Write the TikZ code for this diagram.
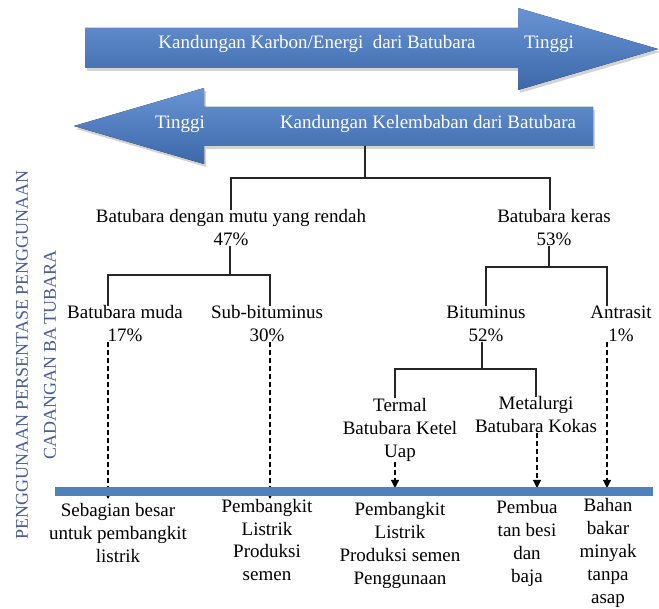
\documentclass[tikz,border=0pt]{standalone}
\usepackage{fontspec}
\setmainfont{Liberation Serif}
\usetikzlibrary{arrows.meta,shadows}
\definecolor{bandtop}{RGB}{104,148,212}
\definecolor{bandmid}{RGB}{80,127,194}
\definecolor{bandbot}{RGB}{60,104,170}
\definecolor{barblue}{RGB}{79,129,189}
\definecolor{sidetext}{RGB}{72,92,150}

\begin{document}
\begin{tikzpicture}[
    x=1pt, y=-1pt,
    every node/.style={color=black, inner sep=0pt, align=center,
        font=\fontsize{19}{23}\selectfont},
    band/.style={top color=bandtop, middle color=bandmid, bottom color=bandbot,
        drop shadow={shadow xshift=2pt, shadow yshift=-3pt, opacity=.35}},
    band text/.style={color=white},
    tree line/.style={line width=1.2pt, color=black!85},
    flow/.style={line width=1.1pt, dash pattern=on 5pt off 3pt,
        -{Triangle[length=8pt, width=8pt]}},
    side label/.style={rotate=90, color=sidetext, font=\fontsize{18}{20}\selectfont}
    ]
    \useasboundingbox (0,0) rectangle (659,609);
    % Arrows
    \fill[band] (85,28) -- (518,28) -- (518,8) -- (658,49) -- (518,90)
        -- (518,68) -- (85,68) -- cycle;
    \fill[band] (593,107) -- (204,107) -- (204,88) -- (74,126) -- (204,164)
        -- (204,146) -- (593,146) -- cycle;
    \node[band text] (carbon) at (317,44) {Kandungan Karbon/Energi\ \ dari Batubara};
    \node[band text] (carbonhi) at (549,44) {Tinggi};
    \node[band text] (moisthi) at (180,124) {Tinggi};
    \node[band text] (moist) at (428,124) {Kandungan Kelembaban dari Batubara};
    % Side labels
    \node[side label] (sideA) at (22,355) {PENGGUNAAN PERSENTASE PENGGUNAAN};
    \node[side label] (sideB) at (50,355) {CADANGAN BA\,TUBARA};
    % Coal types
    \node (low) at (231,228) {Batubara dengan mutu yang rendah\\47\%};
    \node (hard) at (554,228) {Batubara keras\\53\%};
    \node (muda) at (125,324) {Batubara muda\\17\%};
    \node (sub) at (267,324) {Sub-bituminus\\30\%};
    \node (bit) at (486,324) {Bituminus\\52\%};
    \node (antra) at (621,324) {Antrasit\\1\%};
    \node (termal) at (400,430) {Termal\\Batubara Ketel\\Uap};
    \node (metal) at (536,415) {Metalurgi\\Batubara Kokas};
    % Uses
    \node (use1) at (118,533) {Sebagian besar\\untuk pembangkit\\listrik};
    \node (use2) at (267,540) {Pembangkit\\Listrik\\Produksi\\semen};
    \node (use3) at (400,545) {Pembangkit\\Listrik\\Produksi semen\\Penggunaan};
    \node (use4) at (527,543) {Pembua\\tan besi\\dan\\baja};
    \node (use5) at (608,553) {Bahan\\bakar\\minyak\\tanpa\\asap};
    % Tree lines
    \coordinate (split) at (365,146);
    \coordinate (fork1) at (365,178);
    \coordinate (fork2) at (230,275);
    \coordinate (fork3) at (549,267);
    \coordinate (fork4) at (482,369);
    \draw[tree line] (split) -- (fork1);
    \draw[tree line] (low.north) |- (fork1) -| ([xshift=-4pt]hard.north);
    \draw[tree line] ([xshift=-1pt]low.south) -- (fork2);
    \draw[tree line] ([xshift=-17pt]muda.north) |- (fork2) -| ([xshift=3pt]sub.north);
    \draw[tree line] ([xshift=-5pt]hard.south) -- (fork3);
    \draw[tree line] (bit.north) |- (fork3) -| ([xshift=-14pt]antra.north);
    \draw[tree line] ([xshift=-4pt]bit.south) -- (fork4);
    \draw[tree line] ([xshift=-5pt]termal.north) |- (fork4) -| (metal.north);
    % Dashed arrows to the bar
    \coordinate (bartop) at (0,488);
    \coordinate (barbot) at (0,499);
    \draw[flow] ([xshift=-17pt]muda.south) -- ([xshift=-17pt]muda.south |- barbot);
    \draw[flow] ([xshift=3pt]sub.south) -- ([xshift=3pt]sub.south |- barbot);
    \draw[flow] ([xshift=-5pt]termal.south) -- ([xshift=-5pt]termal.south |- bartop);
    \draw[flow] ([xshift=1pt]metal.south) -- ([xshift=1pt]metal.south |- bartop);
    \draw[flow] ([xshift=-14pt]antra.south) -- ([xshift=-14pt]antra.south |- bartop);
    % Bar
    \fill[barblue] (55,487) rectangle (653,496);
\end{tikzpicture}
\end{document}
